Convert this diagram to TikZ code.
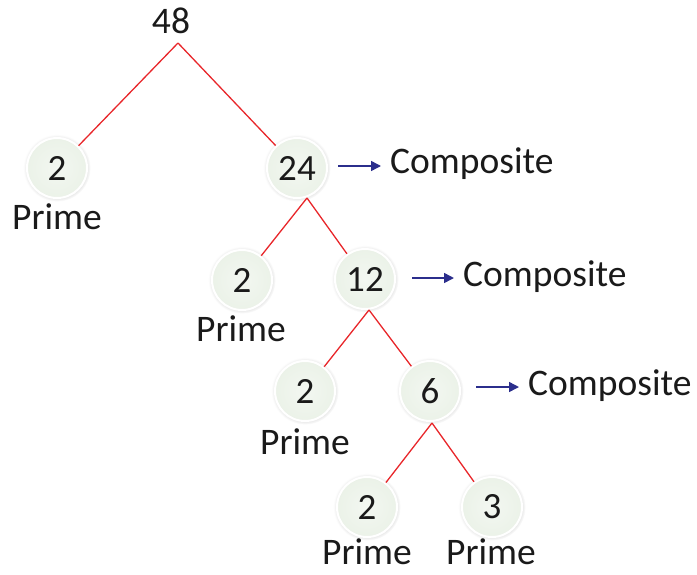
\documentclass[tikz,border=0pt]{standalone}
\usepackage{fontspec}
\setmainfont{Carlito}
\usetikzlibrary{shadows,arrows.meta}
\definecolor{treered}{HTML}{E8262A}
\definecolor{arrblue}{HTML}{2B2E8C}
\definecolor{ballfill}{HTML}{EBF2E8}
\definecolor{txt}{HTML}{1A1A1A}
\tikzset{
  ball/.style={circle, minimum size=60pt, inner sep=0pt, draw=white, line width=2pt,
    inner color=white!40!ballfill, outer color=ballfill,
    circular drop shadow={shadow xshift=0pt, shadow yshift=0pt, shadow scale=1.12, opacity=0.25},
    font=\fontsize{37}{40}\selectfont, text=txt},
  lbl/.style={inner sep=0pt, font=\fontsize{37.5}{40}\selectfont, text=txt},
  branch/.style={draw=treered, line width=1.3pt},
  arr/.style={draw=arrblue, line width=1.5pt, -{Triangle[length=10pt,width=10pt]}}
}
\begin{document}
\begin{tikzpicture}[x=1pt,y=-1pt]
\useasboundingbox (0,0) rectangle (697,574);
% top number
\node[lbl] (n48) at (171,21) {48};
\coordinate (p48) at (178,43);
% nodes
\node[ball] (a) at (57,168) {2};
\node[ball] (b) at (297,168) {24};
\node[ball] (c) at (242,280) {2};
\node[ball] (d) at (365,279) {12};
\node[ball] (e) at (305,391) {2};
\node[ball] (f) at (430,391) {6};
\node[ball] (g) at (367,507) {2};
\node[ball] (h) at (492,507) {3};
% branch apex points
\coordinate (pb) at (307,198);
\coordinate (pd) at (369,310);
\coordinate (pf) at (432,423);
% branches
\draw[branch] (p48) -- (a);
\draw[branch] (p48) -- (b);
\draw[branch] (pb) -- (c);
\draw[branch] (pb) -- (d);
\draw[branch] (pd) -- (e);
\draw[branch] (pd) -- (f);
\draw[branch] (pf) -- (g);
\draw[branch] (pf) -- (h);
% Prime labels
\node[lbl] (pa) at (57,217) {Prime};
\node[lbl] (pc) at (241,329) {Prime};
\node[lbl] (pe) at (305,442) {Prime};
\node[lbl] (pg) at (367,552) {Prime};
\node[lbl] (ph) at (491,552) {Prime};
% Composite labels
\node[lbl, anchor=west] (cb) at (390,164) {Composite};
\node[lbl, anchor=west] (cd) at (463,277) {Composite};
\node[lbl, anchor=west] (cf) at (528,386) {Composite};
\coordinate (sb) at (338,166);
\coordinate (sd) at (412,278);
\coordinate (sf) at (476,387);
\draw[arr] (sb) -- ([xshift=-9pt]sb -| cb.west);
\draw[arr] (sd) -- ([xshift=-9pt]sd -| cd.west);
\draw[arr] (sf) -- ([xshift=-9pt]sf -| cf.west);
\end{tikzpicture}
\end{document}
